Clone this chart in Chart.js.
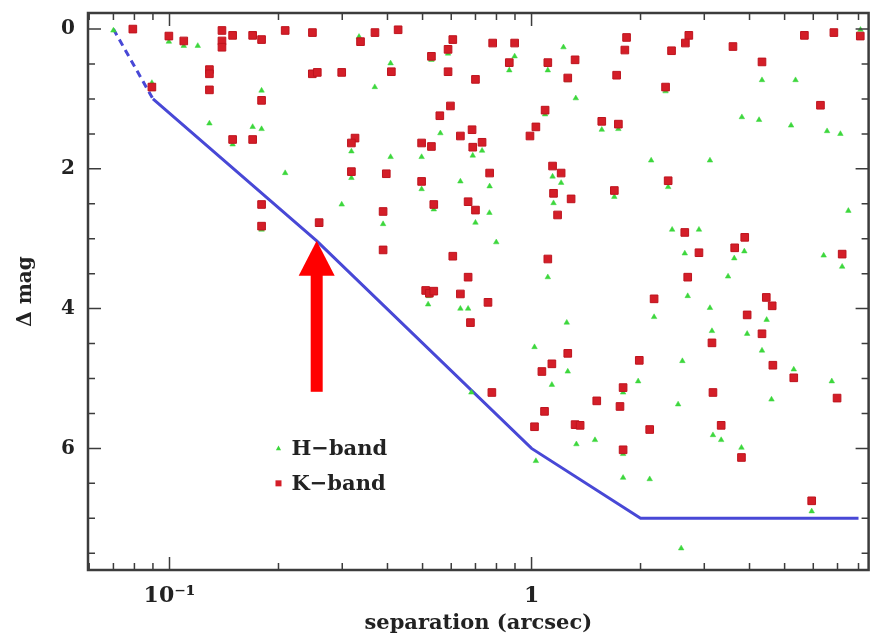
<!DOCTYPE html>
<html>
<head>
<meta charset="utf-8">
<script src="https://cdn.jsdelivr.net/npm/chart.js@4.4.0/dist/chart.umd.min.js"></script>
<style>
  html, body { margin: 0; padding: 0; background: #fff; }
</style>
</head>
<body>
<canvas id="sepChart" width="875" height="640"></canvas>
<script>
// H-band detections: separation (arcsec) and delta mag
const hSep = [0.070, 0.0894, 0.0996, 0.1095, 0.1197, 0.1289, 0.1494, 0.1697, 0.1796, 0.1796,
    0.2087, 0.1796, 0.3338, 0.408, 0.369, 0.529, 0.588, 0.898, 0.868, 1.225,
    1.109, 1.259, 1.325, 0.560, 0.318, 0.318, 0.408, 0.497, 0.497, 0.299,
    0.537, 0.688, 0.730, 0.766, 0.636, 0.765, 1.09, 1.143, 1.207, 1.15,
    2.345, 4.33, 5.36, 3.81, 4.25, 5.21, 6.55, 7.13, 1.563, 1.737,
    2.14, 3.11, 1.693, 2.384, 7.50, 0.389, 0.700, 0.799, 0.52, 0.518,
    0.636, 0.668, 1.109, 1.251, 1.019, 1.259, 1.138, 0.682, 2.445, 2.90,
    2.65, 3.87, 3.63, 3.49, 6.41, 7.21, 2.18, 2.70, 3.11, 4.46,
    3.15, 3.94, 4.33, 1.97, 2.61, 5.30, 6.75, 1.79, 2.54, 4.60,
    1.028, 1.33, 1.497, 1.79, 1.79, 2.12, 3.17, 3.34, 3.80, 5.94,
    2.59, 8.1];
const hMag = [0.02, 0.77, 0.18, 0.24, 0.24, 1.35, 1.65, 1.40, 1.43, 0.88,
    2.06, 2.87, 0.11, 0.49, 0.83, 0.44, 0.35, 0.39, 0.59, 0.26,
    0.59, 0.73, 0.99, 1.49, 1.75, 2.13, 1.83, 1.83, 2.29, 2.51,
    2.58, 1.81, 1.74, 2.25, 2.18, 2.63, 1.22, 2.11, 2.20, 2.49,
    0.89, 0.73, 0.73, 1.26, 1.30, 1.38, 1.46, 1.50, 1.44, 1.43,
    1.88, 1.88, 2.40, 2.26, 2.60, 2.79, 2.77, 3.05, 3.82, 3.94,
    4.00, 4.00, 3.55, 4.20, 4.55, 4.90, 5.09, 5.20, 2.87, 2.87,
    3.21, 3.18, 3.28, 3.54, 3.24, 3.40, 4.12, 3.82, 3.99, 4.16,
    4.32, 4.36, 4.60, 5.04, 4.75, 4.87, 5.04, 5.20, 5.37, 5.30,
    6.18, 5.94, 5.88, 6.08, 6.42, 6.44, 5.81, 5.88, 5.99, 6.90,
    7.43, 0.01];

// K-band detections
const kSep = [0.0792, 0.0894, 0.0996, 0.1095, 0.1396, 0.1396, 0.1396, 0.1494, 0.1697, 0.1796,
    0.2087, 0.1289, 0.1289, 0.1289, 0.1494, 0.1697, 0.1796, 0.1796, 0.1796, 0.2482,
    0.337, 0.3694, 0.428, 0.248, 0.256, 0.299, 0.410, 0.529, 0.606, 0.588,
    0.588, 0.700, 0.781, 0.898, 0.868, 1.109, 1.319, 1.259, 0.597, 0.558,
    0.3254, 0.318, 0.318, 0.397, 0.497, 0.529, 0.497, 0.389, 0.537, 0.636,
    0.685, 0.688, 0.730, 0.766, 0.668, 0.700, 0.99, 1.028, 1.09, 1.143,
    1.207, 1.15, 1.286, 1.18, 1.83, 1.81, 1.718, 2.436, 2.719, 2.66,
    2.345, 3.60, 4.33, 5.67, 6.84, 8.09, 6.28, 1.563, 1.737, 1.693,
    2.384, 0.259, 0.389, 0.606, 0.668, 0.51, 0.522, 0.537, 0.636, 0.758,
    0.678, 1.109, 1.259, 1.138, 1.068, 0.777, 1.086, 2.65, 2.90, 3.88,
    3.64, 2.70, 7.21, 2.18, 4.45, 4.62, 3.94, 3.15, 4.33, 1.984,
    4.64, 5.30, 6.98, 1.79, 1.514, 1.755, 3.17, 1.019, 1.319, 1.362,
    1.79, 2.12, 3.34, 3.80, 5.94];
const kMag = [0.00, 0.83, 0.10, 0.17, 0.02, 0.17, 0.26, 0.09, 0.09, 0.15,
    0.02, 0.58, 0.64, 0.87, 1.58, 1.58, 1.02, 2.51, 2.82, 0.05,
    0.18, 0.05, 0.01, 0.64, 0.62, 0.62, 0.61, 0.39, 0.15, 0.29,
    0.61, 0.72, 0.20, 0.20, 0.48, 0.48, 0.44, 0.70, 1.10, 1.24,
    1.56, 1.63, 2.04, 2.07, 1.63, 1.68, 2.18, 2.61, 2.51, 1.53,
    1.44, 1.69, 1.62, 2.06, 2.47, 2.59, 1.53, 1.40, 1.16, 1.96,
    2.06, 2.35, 2.43, 2.66, 0.12, 0.30, 0.66, 0.31, 0.09, 0.20,
    0.83, 0.25, 0.47, 0.09, 0.05, 0.10, 1.09, 1.32, 1.36, 2.31,
    2.17, 2.77, 3.16, 3.25, 3.55, 3.74, 3.78, 3.75, 3.79, 3.91,
    4.20, 3.29, 4.64, 4.79, 4.90, 5.20, 5.47, 2.91, 3.20, 2.98,
    3.13, 3.55, 3.22, 3.86, 3.84, 3.96, 4.09, 4.49, 4.36, 4.74,
    4.81, 4.99, 5.28, 5.13, 5.32, 5.40, 5.20, 5.69, 5.66, 5.67,
    6.02, 5.73, 5.67, 6.13, 6.75];

// detection limit curve (first segment is dashed)
const limitSep = [0.07, 0.09, 0.255, 1, 2, 8];
const limitMag = [0, 1, 3.03, 6, 7, 7];

// red arrow pointing at the limit
const arrowSep = 0.255;
const arrowTip = 3.03;
const arrowHeadBase = 3.53;
const arrowTail = 5.19;

// legend anchor in data units
const legendSep = 0.2;
const legendMag = [6.0, 6.5];
const legendLabels = ['H\u2212band', 'K\u2212band'];

const xLabelTicks = [0.1, 1];
const xMinorTicks = [0.06, 0.07, 0.08, 0.09, 0.2, 0.3, 0.4, 0.5, 0.6, 0.7, 0.8, 0.9, 2, 3, 4, 5, 6, 7, 8];
const yLabelTicks = [0, 2, 4, 6];
const yMinorTicks = [0.5, 1, 1.5, 2.5, 3, 3.5, 4.5, 5, 5.5, 6.5, 7, 7.5];

const FONT = "'DejaVu Serif', serif";
const GREEN = 'rgb(60,215,60)';
const RED = 'rgb(212,30,40)';
const BLUE = 'rgb(72,72,214)';

function toPoints(xs, ys) {
    return xs.map((x, i) => ({ x: x, y: ys[i] }));
}

const framePlugin = {
    id: 'frame',
    afterDatasetsDraw(chart) {
        const ctx = chart.ctx;
        const area = chart.chartArea;
        const xs = chart.scales.x;
        const ys = chart.scales.y;
        ctx.save();

        // arrow
        const ax = xs.getPixelForValue(arrowSep);
        const tip = ys.getPixelForValue(arrowTip);
        const base = ys.getPixelForValue(arrowHeadBase);
        const tail = ys.getPixelForValue(arrowTail);
        ctx.fillStyle = '#ff0000';
        ctx.fillRect(ax - 6, base - 1, 12, tail - base + 1);
        ctx.beginPath();
        ctx.moveTo(ax, tip);
        ctx.lineTo(ax - 18, base);
        ctx.lineTo(ax + 18, base);
        ctx.closePath();
        ctx.fill();

        // legend
        const lx = xs.getPixelForValue(legendSep);
        ctx.font = 'bold 21px ' + FONT;
        ctx.textBaseline = 'middle';
        ctx.textAlign = 'left';
        legendMag.forEach((m, i) => {
            const ly = ys.getPixelForValue(m);
            if (i === 0) {
                ctx.fillStyle = GREEN;
                ctx.beginPath();
                ctx.moveTo(lx, ly - 3);
                ctx.lineTo(lx - 2.6, ly + 1.8);
                ctx.lineTo(lx + 2.6, ly + 1.8);
                ctx.closePath();
                ctx.fill();
            } else {
                ctx.fillStyle = RED;
                ctx.fillRect(lx - 3, ly - 3, 6, 6);
            }
            ctx.fillStyle = '#222';
            ctx.fillText(legendLabels[i], lx + 13, ly + 1);
        });

        // frame with inward ticks
        ctx.strokeStyle = '#3c3c3c';
        ctx.lineWidth = 2.5;
        ctx.strokeRect(area.left, area.top, area.right - area.left, area.bottom - area.top);
        ctx.lineWidth = 1.5;
        ctx.beginPath();
        const xt = (v, len) => {
            const px = xs.getPixelForValue(v);
            ctx.moveTo(px, area.bottom);
            ctx.lineTo(px, area.bottom - len);
            ctx.moveTo(px, area.top);
            ctx.lineTo(px, area.top + len);
        };
        const yt = (v, len) => {
            const py = ys.getPixelForValue(v);
            ctx.moveTo(area.left, py);
            ctx.lineTo(area.left + len, py);
            ctx.moveTo(area.right, py);
            ctx.lineTo(area.right - len, py);
        };
        xLabelTicks.forEach(v => xt(v, 13));
        xMinorTicks.forEach(v => xt(v, 7));
        yLabelTicks.forEach(v => yt(v, 13));
        yMinorTicks.forEach(v => yt(v, 7));
        ctx.stroke();
        ctx.restore();
    }
};

document.addEventListener('DOMContentLoaded', () => {
    const ctx = document.getElementById('sepChart').getContext('2d');
    const config = {
        type: 'scatter',
        data: {
            datasets: [
                {
                    label: 'K-band',
                    data: toPoints(kSep, kMag),
                    pointStyle: 'rect',
                    pointRadius: 5.4,
                    backgroundColor: RED,
                    borderColor: 'rgb(190,20,30)',
                    borderWidth: 1,
                    order: 0
                },
                {
                    label: 'H-band',
                    data: toPoints(hSep, hMag),
                    pointStyle: 'triangle',
                    pointRadius: 3.2,
                    backgroundColor: GREEN,
                    borderColor: GREEN,
                    borderWidth: 0.5,
                    order: 1
                },
                {
                    type: 'line',
                    label: 'limit',
                    data: toPoints(limitSep, limitMag),
                    borderColor: BLUE,
                    borderWidth: 3,
                    pointRadius: 0,
                    fill: false,
                    tension: 0,
                    segment: {
                        borderDash: c => c.p0DataIndex === 0 ? [7, 5] : undefined
                    },
                    order: 2
                }
            ]
        },
        options: {
            responsive: false,
            animation: false,
            layout: { padding: { top: 13, right: 2, left: 0, bottom: 0 } },
            scales: {
                x: {
                    type: 'logarithmic',
                    min: 0.05955,
                    max: 8.53,
                    afterFit: s => {
                        s.height = 70;
                        s.paddingLeft = 0;
                        s.paddingRight = 0;
                    },
                    afterBuildTicks: s => { s.ticks = xLabelTicks.map(v => ({ value: v })); },
                    grid: { display: false, drawTicks: false },
                    border: { display: false },
                    ticks: {
                        autoSkip: false,
                        maxRotation: 0,
                        padding: 13,
                        color: '#222',
                        font: { family: FONT, size: 22, weight: 'bold' },
                        callback: v => v === 0.1 ? '10\u207B\u00B9' : String(v)
                    },
                    title: {
                        display: true,
                        text: 'separation (arcsec)',
                        color: '#222',
                        font: { family: FONT, size: 21, weight: 'bold' },
                        padding: { top: 0, bottom: 4 }
                    }
                },
                y: {
                    type: 'linear',
                    reverse: true,
                    min: -0.23,
                    max: 7.74,
                    afterFit: s => {
                        s.width = 88;
                        s.paddingTop = 0;
                        s.paddingBottom = 0;
                    },
                    afterBuildTicks: s => { s.ticks = yLabelTicks.map(v => ({ value: v })); },
                    grid: { display: false, drawTicks: false },
                    border: { display: false },
                    ticks: {
                        padding: 13,
                        color: '#222',
                        font: { family: FONT, size: 20, weight: 'bold' }
                    },
                    title: {
                        display: true,
                        text: '\u0394 mag',
                        color: '#222',
                        font: { family: FONT, size: 20, weight: 'bold' },
                        padding: { top: 14, bottom: 0 }
                    }
                }
            },
            plugins: {
                legend: { display: false },
                tooltip: { enabled: false }
            }
        },
        plugins: [framePlugin]
    };
    new Chart(ctx, config);
});
</script>
</body>
</html>
